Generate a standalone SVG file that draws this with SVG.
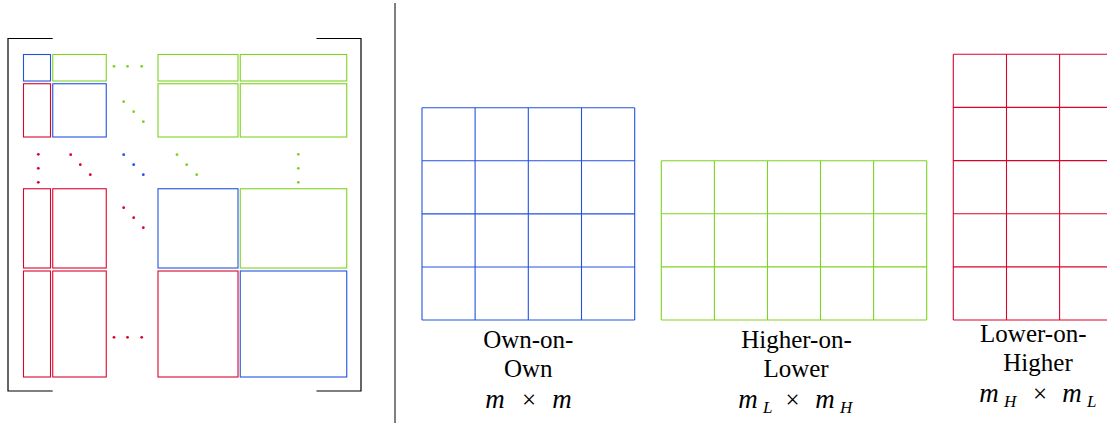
<svg xmlns="http://www.w3.org/2000/svg" width="1107" height="423" viewBox="0 0 1107 423">
<style>
.b{fill:none;stroke:#2152e0;stroke-width:1.1}
.g{fill:none;stroke:#7ed321;stroke-width:1.1}
.r{fill:none;stroke:#d9042d;stroke-width:1.1}
.db{fill:#2152e0}.dg{fill:#7ed321}.dr{fill:#d9042d}
.k{fill:none;stroke:#000;stroke-width:1.2}
text{font-family:'Liberation Serif','DejaVu Serif','Times New Roman',serif;fill:#000}
.t{font-size:25px;text-anchor:middle}
.m{font-size:27px;font-style:italic;text-anchor:middle}
.x{font-size:25px;text-anchor:middle}
.s{font-size:17px;font-style:italic}
</style>
<g id="matrix">
<path class="k" d="M52.7,38.5 H8 V391 H52.7"/>
<path class="k" d="M316.5,38.5 H361 V391 H316.5"/>
<rect class="b" x="23.5" y="54.5" width="27" height="26.5"/>
<rect class="g" x="52.75" y="54.5" width="53.5" height="26.5"/>
<rect class="g" x="158" y="54.5" width="80" height="26.5"/>
<rect class="g" x="240.25" y="54.5" width="106.5" height="26.5"/>
<rect class="r" x="23.5" y="83.75" width="27" height="53.25"/>
<rect class="b" x="52.75" y="83.75" width="53.5" height="53.25"/>
<rect class="g" x="158" y="83.75" width="80" height="53.25"/>
<rect class="g" x="240.25" y="83.75" width="106.5" height="53.25"/>
<rect class="r" x="23.5" y="188.75" width="27" height="79.25"/>
<rect class="r" x="52.75" y="188.75" width="53.5" height="79.25"/>
<rect class="b" x="158" y="188.75" width="80" height="79.25"/>
<rect class="g" x="240.25" y="188.75" width="106.5" height="79.25"/>
<rect class="r" x="23.5" y="271" width="27" height="106"/>
<rect class="r" x="52.75" y="271" width="53.5" height="106"/>
<rect class="r" x="158" y="271" width="80" height="106"/>
<rect class="b" x="240.25" y="271" width="106.5" height="106"/>
<g class="dg"><circle cx="114" cy="66.3" r="1.4"/><circle cx="127.5" cy="66.3" r="1.4"/><circle cx="141.7" cy="66.3" r="1.4"/></g>
<g class="dg"><circle cx="123.7" cy="101.7" r="1.4"/><circle cx="133.7" cy="111.7" r="1.4"/><circle cx="143.3" cy="121.7" r="1.4"/></g>
<g class="dr"><circle cx="38.3" cy="154.3" r="1.4"/><circle cx="38.3" cy="168.3" r="1.4"/><circle cx="38.3" cy="182.3" r="1.4"/></g>
<g class="dr"><circle cx="70.7" cy="154.7" r="1.4"/><circle cx="80.3" cy="164.7" r="1.4"/><circle cx="90.3" cy="174.7" r="1.4"/></g>
<g class="db"><circle cx="123.7" cy="154.7" r="1.4"/><circle cx="133.7" cy="164.7" r="1.4"/><circle cx="143.3" cy="174.7" r="1.4"/></g>
<g class="dg"><circle cx="177" cy="154.7" r="1.4"/><circle cx="186.7" cy="164.7" r="1.4"/><circle cx="196.7" cy="174.7" r="1.4"/></g>
<g class="dg"><circle cx="298.3" cy="154.3" r="1.4"/><circle cx="298.3" cy="168.3" r="1.4"/><circle cx="298.3" cy="182.3" r="1.4"/></g>
<g class="dr"><circle cx="123.7" cy="207.7" r="1.4"/><circle cx="133.7" cy="217.7" r="1.4"/><circle cx="143.3" cy="227.7" r="1.4"/></g>
<g class="dr"><circle cx="114" cy="337.3" r="1.4"/><circle cx="127.5" cy="337.3" r="1.4"/><circle cx="141.7" cy="337.3" r="1.4"/></g>
</g>
<g id="divider"><line x1="395" y1="3" x2="395" y2="423" stroke="#000" stroke-width="1"/></g>
<g id="own">
<path class="b" d="M422,107.7 V320 M475.1,107.7 V320 M528.3,107.7 V320 M581.5,107.7 V320 M634.7,107.7 V320 M422,107.7 H634.7 M422,160.8 H634.7 M422,213.9 H634.7 M422,267 H634.7 M422,320 H634.7"/>
<text class="t" x="528.3" y="348">Own-on-</text>
<text class="t" x="528.3" y="377">Own</text>
<text class="m" x="495" y="408">m</text><text class="x" x="529" y="408">×</text><text class="m" x="562" y="408">m</text>
</g>
<g id="higher-on-lower">
<path class="g" d="M661.3,160.7 V320 M714.4,160.7 V320 M767.5,160.7 V320 M820.5,160.7 V320 M873.6,160.7 V320 M926.7,160.7 V320 M661.3,160.7 H926.7 M661.3,213.8 H926.7 M661.3,266.9 H926.7 M661.3,320 H926.7"/>
<text class="t" x="796.5" y="348">Higher-on-</text>
<text class="t" x="796" y="377">Lower</text>
<text class="m" x="748" y="408">m</text><text class="s" x="763" y="413">L</text><text class="x" x="792.5" y="408">×</text><text class="m" x="825" y="408">m</text><text class="s" x="840" y="413">H</text>
</g>
<g id="lower-on-higher">
<path class="r" d="M953.3,54.3 V320 M1006.5,54.3 V320 M1059.6,54.3 V320 M953.3,54.3 H1112 M953.3,107.4 H1112 M953.3,160.6 H1112 M953.3,213.7 H1112 M953.3,266.9 H1112 M953.3,320 H1112"/>
<text class="t" x="1033.3" y="342">Lower-on-</text>
<text class="t" x="1038" y="371">Higher</text>
<text class="m" x="989" y="402">m</text><text class="s" x="1004" y="407">H</text><text class="x" x="1040" y="402">×</text><text class="m" x="1072" y="402">m</text><text class="s" x="1087" y="407">L</text>
</g>
</svg>
